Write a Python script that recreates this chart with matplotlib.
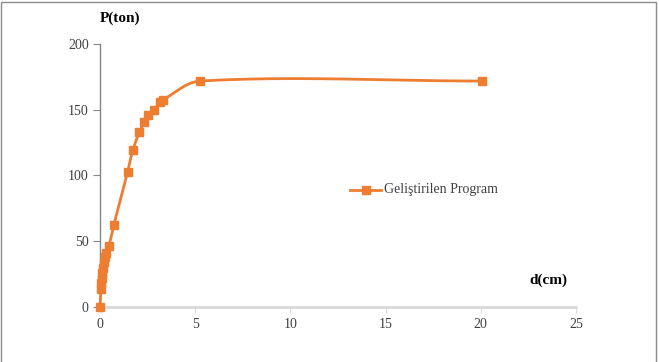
import matplotlib
matplotlib.use('Agg')
import matplotlib.pyplot as plt
import numpy
from matplotlib.patches import Rectangle

# Load-displacement readings (d in cm, P in ton)
d_cm = [0.0, 0.05, 0.07, 0.1, 0.13, 0.17, 0.2, 0.25, 0.3, 0.47, 0.72,
        1.45, 1.72, 2.07, 2.33, 2.54, 2.84, 3.15, 3.29, 5.25, 20.06]
p_ton = [0.0, 14.0, 18.0, 22.0, 26.0, 30.0, 34.0, 38.0, 41.0, 46.6, 62.0,
         102.6, 119.0, 133.0, 140.5, 145.8, 150.0, 155.7, 157.4, 171.8, 171.8]

x_ticks = [0, 5, 10, 15, 20, 25]
y_ticks = [0, 50, 100, 150, 200]
series_name = 'Geliştirilen Program'

orange = '#ED7D31'
plt.rcParams['font.family'] = ['Liberation Serif', 'DejaVu Serif']

fig = plt.figure(figsize = (6.59, 3.62), dpi = 100)
ax = fig.add_axes([0.1517, 0.152, 0.7223, 0.7265])
ax.set_xlim(0, 25)
ax.set_ylim(0, 200)

# Smoothed line (Bezier segments in display space, like Excel's smoothed line)
def smooth_curve(xs, ys, n = 40):
    pts = ax.transData.transform(numpy.column_stack([xs, ys]))
    k = len(pts)
    dirs = []
    for i in range(k):
        a = pts[max(i - 1, 0)]
        b = pts[min(i + 1, k - 1)]
        v = b - a
        dirs.append(v / numpy.hypot(v[0], v[1]))
    t = numpy.linspace(0, 1, n)[:, None]
    out = []
    for i in range(k - 1):
        p0 = pts[i]
        p3 = pts[i + 1]
        seg = numpy.hypot(*(p3 - p0))
        p1 = p0 + dirs[i] * seg / 3.0
        p2 = p3 - dirs[i + 1] * seg / 3.0
        out.append((1 - t)**3 * p0 + 3 * (1 - t)**2 * t * p1 + 3 * (1 - t) * t**2 * p2 + t**3 * p3)
    out = numpy.vstack(out)
    back = ax.transData.inverted().transform(out)
    return back[:, 0], back[:, 1]

sx, sy = smooth_curve(d_cm, p_ton)
ax.plot(sx, sy, color = orange, linewidth = 2.0, zorder = 3, clip_on = False)
ax.plot(d_cm, p_ton, linestyle = 'none', marker = 's', markersize = 5.5,
        color = orange, zorder = 4, clip_on = False)

ax.set_xticks(x_ticks)
ax.set_yticks(y_ticks)

for side in ['top', 'right']:
    ax.spines[side].set_visible(False)
ax.spines['left'].set_color('#868686')
ax.spines['left'].set_linewidth(1.0)
ax.spines['bottom'].set_color('#D9D9D9')
ax.spines['bottom'].set_linewidth(2.0)
ax.tick_params(axis = 'y', direction = 'out', length = 5, color = '#868686',
               labelsize = 10, labelcolor = '#404040', pad = 3)
ax.tick_params(axis = 'x', direction = 'out', length = 4, color = '#D9D9D9',
               labelsize = 10, labelcolor = '#404040', pad = 4)

fig.text(120 / 659, 1 - 18 / 362, 'P(ton)', fontsize = 11, fontweight = 'bold',
         ha = 'center', va = 'center')
fig.text(548 / 659, 1 - 280 / 362, 'd(cm)', fontsize = 11, fontweight = 'bold',
         ha = 'center', va = 'center')

# Legend entry
fig.lines.append(plt.Line2D([350 / 659, 381 / 659], [1 - 190 / 362, 1 - 190 / 362],
                            transform = fig.transFigure, color = orange,
                            linewidth = 2.0))
fig.lines.append(plt.Line2D([365.5 / 659], [1 - 190 / 362], transform = fig.transFigure,
                            color = orange, marker = 's', markersize = 5.5))
fig.text(384 / 659, 1 - 190 / 362, series_name, fontsize = 10, ha = 'left',
         va = 'center', color = '#404040')

# Outer chart border
fig.patches.append(Rectangle((1 / 659, -0.05), 655 / 659, 1.05 - 2 / 362,
                             transform = fig.transFigure, fill = False,
                             edgecolor = '#8C8C8C', linewidth = 1.0))

fig.savefig('out.png', dpi = 100)
